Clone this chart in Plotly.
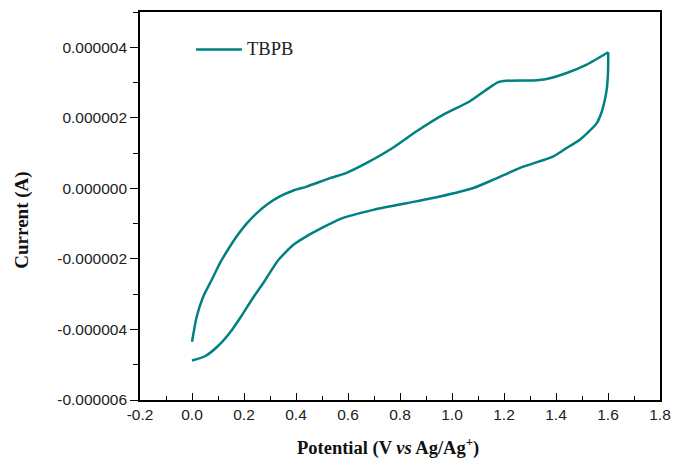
import plotly.graph_objects as go

# Cyclic voltammogram of TBPB (potential in V, current in microamps -> A)
# forward (anodic) scan 0.0 -> 1.6 V
fwd_potential = [0.000, 0.018, 0.043, 0.076, 0.108, 0.140, 0.172, 0.210, 0.249, 0.290, 0.338,
                 0.390, 0.441, 0.531, 0.595, 0.672, 0.762, 0.864, 0.967, 1.069, 1.133, 1.178,
                 1.210, 1.262, 1.313, 1.364, 1.441, 1.518, 1.601]
fwd_current_uA = [-4.35, -3.64, -3.07, -2.59, -2.11, -1.72, -1.36, -1.00, -0.70, -0.45, -0.23,
                  -0.06, 0.05, 0.29, 0.44, 0.72, 1.10, 1.62, 2.09, 2.47, 2.80, 3.01,
                  3.05, 3.06, 3.06, 3.10, 3.27, 3.51, 3.86]
# reverse (cathodic) scan 1.6 -> 0.0 V
rev_potential = [1.601, 1.600, 1.595, 1.588, 1.575, 1.557, 1.525, 1.492, 1.440, 1.390, 1.262,
                 1.159, 1.082, 0.954, 0.826, 0.697, 0.569, 0.500, 0.440, 0.390, 0.330, 0.280,
                 0.235, 0.190, 0.153, 0.100, 0.050, 0.000]
rev_current_uA = [3.86, 3.27, 2.80, 2.52, 2.15, 1.85, 1.60, 1.38, 1.14, 0.91, 0.58,
                  0.245, 0.01, -0.23, -0.42, -0.61, -0.87, -1.12, -1.36, -1.60, -2.05, -2.62,
                  -3.10, -3.62, -4.02, -4.47, -4.76, -4.88]

series_name = "TBPB"
x_ticks = [-0.2, 0.0, 0.2, 0.4, 0.6, 0.8, 1.0, 1.2, 1.4, 1.6, 1.8]
y_ticks_uA = [-6, -4, -2, 0, 2, 4]

y_ticks = [v * 1e-6 for v in y_ticks_uA]
y_ticktext = [("-" if v < 0 else "") + "0.%06d" % abs(v) for v in y_ticks_uA]

teal = "#008080"
tick_font = dict(family="Liberation Sans, Arial", size=15.5, color="#222222")
serif = "Liberation Serif, Times New Roman"

fig = go.Figure()
for xs, ys in [(fwd_potential, fwd_current_uA), (rev_potential, rev_current_uA)]:
    fig.add_trace(go.Scatter(x=xs, y=[v * 1e-6 for v in ys], mode="lines", name=series_name,
                             line=dict(color=teal, width=2.5, shape="spline", smoothing=0.6),
                             showlegend=False))

fig.update_layout(
    width=673, height=459, autosize=False,
    margin=dict(l=140, r=13, t=12, b=59, autoexpand=False),
    paper_bgcolor="white", plot_bgcolor="white",
    xaxis=dict(range=[-0.2, 1.8], tickvals=x_ticks, ticktext=[f"{v:.1f}" for v in x_ticks],
               ticks="inside", ticklen=7, tickwidth=1.3, tickcolor="black",
               minor=dict(dtick=0.1, tick0=-0.2, ticks="inside", ticklen=4, tickwidth=1.3, tickcolor="black"),
               showline=True, linecolor="black", linewidth=1.6, mirror=True, automargin=False,
               showgrid=False, zeroline=False, tickfont=tick_font),
    yaxis=dict(range=[-6e-6, 5e-6], tickvals=y_ticks, ticktext=y_ticktext,
               ticks="outside", ticklen=8, tickwidth=1.3, tickcolor="black",
               minor=dict(dtick=1e-6, tick0=-6e-6, ticks="outside", ticklen=5, tickwidth=1.3, tickcolor="black"),
               showline=True, linecolor="black", linewidth=1.6, mirror=True, automargin=False,
               showgrid=False, zeroline=False, tickfont=tick_font),
    yaxis2=dict(range=[-6e-6, 5e-6], overlaying="y", side="left", anchor="x", tickvals=y_ticks,
                showticklabels=False, ticks="inside", ticklen=7, tickwidth=1.3, tickcolor="black",
                minor=dict(dtick=1e-6, tick0=-6e-6, ticks="inside", ticklen=5, tickwidth=1.3, tickcolor="black"),
                showline=False, showgrid=False, zeroline=False, automargin=False),
    showlegend=False,
)

# Legend (line + label)
fig.add_shape(type="line", xref="paper", yref="paper", x0=0.1077, x1=0.196, y0=0.9034, y1=0.9034,
              line=dict(color=teal, width=2.6))
fig.add_annotation(xref="paper", yref="paper", x=0.202, y=0.9034, xanchor="left", yanchor="middle",
                   text=series_name, showarrow=False,
                   font=dict(family=serif, size=18.5, color="#222222"))

# Axis titles
fig.add_annotation(xref="paper", yref="paper", x=0.477, y=-0.119, xanchor="center", yanchor="middle",
                   text="<b>Potential (V <i>vs</i> Ag/Ag<sup>+</sup>)</b>", showarrow=False,
                   font=dict(family=serif, size=18.5, color="#111111"))
fig.add_annotation(xref="paper", yref="paper", x=-0.2275, y=0.464, xanchor="center", yanchor="middle",
                   text="<b>Current (A)</b>", textangle=-90, showarrow=False,
                   font=dict(family=serif, size=19, color="#111111"))

fig.write_html(
    "out.html",
    config={"displayModeBar": False},
    post_script="document.documentElement.style.overflow='hidden';"
                "document.body.style.margin='0';document.body.style.overflow='hidden';",
)
